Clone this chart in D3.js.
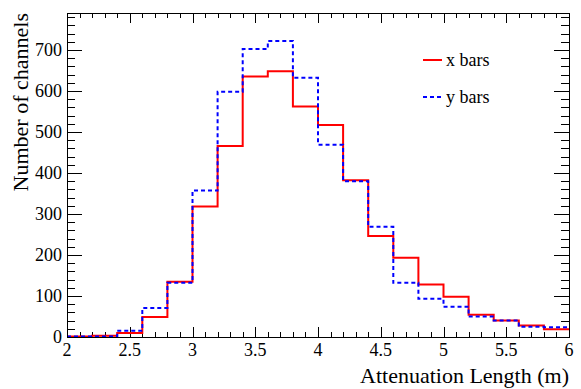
<!DOCTYPE html>
<html><head><meta charset="utf-8">
<script src="https://cdn.jsdelivr.net/npm/d3@7"></script>
<style>
body{margin:0;background:#fff;}
svg{display:block;font-family:"Liberation Serif","Times New Roman",serif;}
</style></head>
<body><svg id="c" width="581" height="389"></svg>
<script>
const binEdges = [2.0,2.2,2.4,2.6,2.8,3.0,3.2,3.4,3.6,3.8,4.0,4.2,4.4,4.6,4.8,5.0,5.2,5.4,5.6,5.8,6.0];
const xBars = [1,3,10,49,135,318,466,635,648,562,517,382,246,193,128,98,54,40,28,19];
const yBars = [1,1,15,71,132,357,598,702,722,632,469,380,269,132,93,74,50,40,25,24];
const xTicks = [2,2.5,3,3.5,4,4.5,5,5.5,6];
const yTicks = [0,100,200,300,400,500,600,700];
const seriesNames = ["x bars","y bars"];
const xTitle = "Attenuation Length (m)";
const yTitle = "Number of channels";

const L=67,R=569,T=13,B=337;
const svg=d3.select("#c");
const x=d3.scaleLinear().domain([2,6]).range([L,R]);
const y=d3.scaleLinear().domain([0,790]).range([B,T]);

// minor ticks
const xMinor=d3.range(2,6.0001,0.1);
const yMinor=d3.range(0,790,20);
const g=svg.append("g").attr("stroke","#000").attr("stroke-width",1).attr("shape-rendering","crispEdges");
xMinor.forEach(v=>{
  const major=xTicks.some(t=>Math.abs(t-v)<1e-6);
  const px=Math.round(x(v))+0.5;
  g.append("line").attr("x1",px).attr("x2",px).attr("y1",B).attr("y2",B-(major?10:5));
  g.append("line").attr("x1",px).attr("x2",px).attr("y1",T).attr("y2",T+(major?10:5));
});
yMinor.forEach(v=>{
  const major=yTicks.includes(v);
  const py=Math.round(y(v))+0.5;
  g.append("line").attr("x1",L).attr("x2",L+(major?15:8)).attr("y1",py).attr("y2",py);
  g.append("line").attr("x1",R).attr("x2",R-(major?15:8)).attr("y1",py).attr("y2",py);
});

function pts(vals){
  const p=vals.map((v,i)=>[binEdges[i],v]);
  p.push([binEdges[binEdges.length-1],vals[vals.length-1]]);
  return p;
}
const line=d3.line().x(d=>x(d[0])).y(d=>y(d[1])).curve(d3.curveStepAfter);
svg.append("path").attr("d",line(pts(xBars))).attr("fill","none").attr("stroke","#ff0000").attr("stroke-width",2);
svg.append("path").attr("d",line(pts(yBars))).attr("fill","none").attr("stroke","#0000ff").attr("stroke-width",2).attr("stroke-dasharray","4,3");

// frame
svg.append("rect").attr("x",L+0.5).attr("y",T+0.5).attr("width",R-L).attr("height",B-T)
  .attr("fill","none").attr("stroke","#000").attr("stroke-width",1.2).attr("shape-rendering","crispEdges");

// tick labels
svg.selectAll(".xl").data(xTicks).enter().append("text")
  .attr("x",d=>x(d)).attr("y",B+19).attr("text-anchor","middle").attr("font-size",18).text(d=>d);
svg.selectAll(".yl").data(yTicks).enter().append("text")
  .attr("x",L-5).attr("y",d=>y(d)+6).attr("text-anchor","end").attr("font-size",18).text(d=>d);

svg.append("text").attr("x",R).attr("y",383).attr("text-anchor","end").attr("font-size",22).text(xTitle);
svg.append("text").attr("transform",`translate(28,${T}) rotate(-90)`).attr("text-anchor","end").attr("font-size",22).text(yTitle);

// legend
const lg=[{c:"#ff0000",d:null,y:60},{c:"#0000ff",d:"4,3",y:97}];
lg.forEach((o,i)=>{
  const l=svg.append("line").attr("x1",423).attr("x2",442).attr("y1",o.y).attr("y2",o.y).attr("stroke",o.c).attr("stroke-width",2);
  if(o.d) l.attr("stroke-dasharray",o.d);
  svg.append("text").attr("x",446).attr("y",o.y+6).attr("font-size",18).text(seriesNames[i]);
});
</script></body></html>
